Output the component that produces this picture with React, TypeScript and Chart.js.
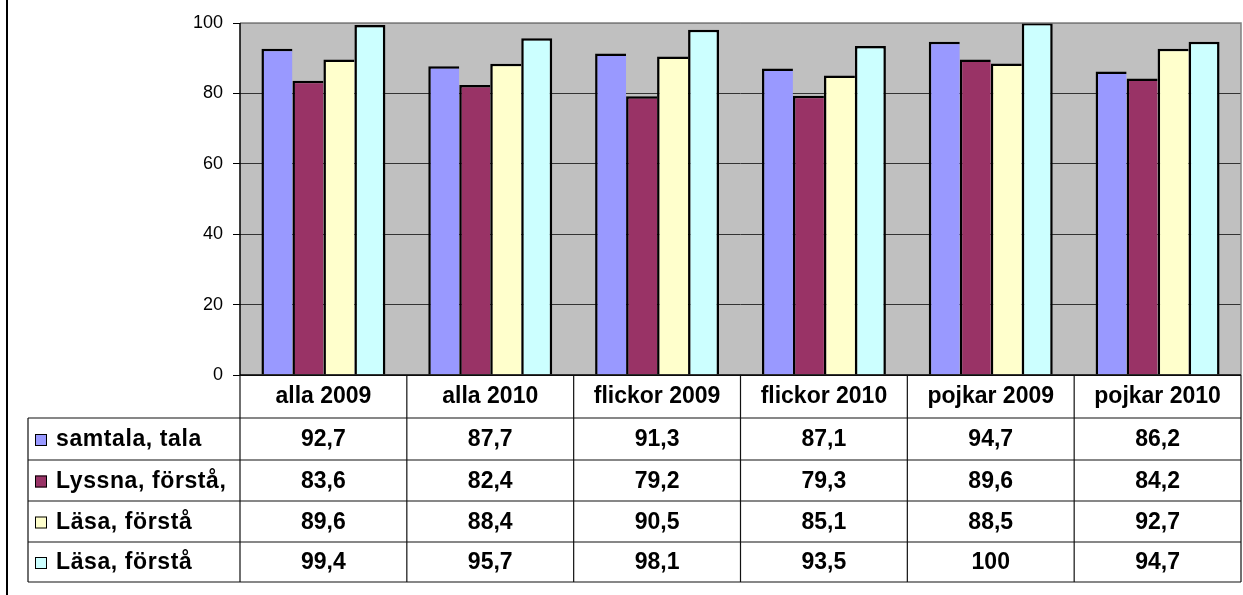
import React, { useEffect, useRef } from "react";
import { Chart, registerables } from "chart.js";

Chart.register(...registerables);

const categories = ["alla 2009", "alla 2010", "flickor 2009", "flickor 2010", "pojkar 2009", "pojkar 2010"];
const seriesLabels = ["samtala, tala", "Lyssna, förstå,", "Läsa, förstå", "Läsa, förstå"];
const samtalaTala = [92.7, 87.7, 91.3, 87.1, 94.7, 86.2];
const lyssnaForsta = [83.6, 82.4, 79.2, 79.3, 89.6, 84.2];
const lasaForsta1 = [89.6, 88.4, 90.5, 85.1, 88.5, 92.7];
const lasaForsta2 = [99.4, 95.7, 98.1, 93.5, 100, 94.7];
const seriesColors = ["#9999FF", "#993366", "#FFFFCC", "#CCFFFF"];
const yTicks = [0, 20, 40, 60, 80, 100];

const FONT = "'Liberation Sans', Arial, sans-serif";
const W = 1243;
const H = 595;
const HEADER_BOTTOM = 418;
const ROW_LINES = [418, 460, 501, 542, 582];
const TABLE_LEFT = 28;

const fmt = (v: number) => String(v).replace(".", ",");

const tablePlugin = {
  id: "tablePlugin",
  beforeDraw(chart: any) {
    const { ctx, chartArea } = chart;
    ctx.save();
    ctx.fillStyle = "#FFFFFF";
    ctx.fillRect(0, 0, W, H);
    ctx.fillStyle = "#C0C0C0";
    ctx.fillRect(chartArea.left, chartArea.top, chartArea.right - chartArea.left, chartArea.bottom - chartArea.top);
    ctx.restore();
  },
  afterDraw(chart: any) {
    const { ctx, chartArea } = chart;
    const xScale = chart.scales.x;
    const n = chart.data.labels.length;
    const left = chartArea.left;
    const right = chartArea.right;
    const colW = (right - left) / n;
    ctx.save();
    // plot border top/right gray
    ctx.strokeStyle = "#808080";
    ctx.lineWidth = 1.5;
    ctx.beginPath();
    ctx.moveTo(left, chartArea.top);
    ctx.lineTo(right, chartArea.top);
    ctx.lineTo(right, chartArea.bottom);
    ctx.stroke();
    // left/bottom axis lines
    ctx.strokeStyle = "#000";
    ctx.lineWidth = 1.5;
    ctx.beginPath();
    ctx.moveTo(left, chartArea.top);
    ctx.lineTo(left, chartArea.bottom);
    ctx.lineTo(right, chartArea.bottom);
    ctx.stroke();

    // table lines
    ctx.strokeStyle = "#111";
    ctx.lineWidth = 1.2;
    ctx.beginPath();
    for (let i = 0; i <= n; i++) {
      const x = left + colW * i;
      ctx.moveTo(x, chartArea.bottom);
      ctx.lineTo(x, ROW_LINES[ROW_LINES.length - 1]);
    }
    for (const y of ROW_LINES) {
      ctx.moveTo(TABLE_LEFT, y);
      ctx.lineTo(right, y);
    }
    ctx.moveTo(TABLE_LEFT, ROW_LINES[0]);
    ctx.lineTo(TABLE_LEFT, ROW_LINES[ROW_LINES.length - 1]);
    ctx.stroke();

    // rows
    ctx.textBaseline = "middle";
    chart.data.datasets.forEach((ds: any, r: number) => {
      const yc = (ROW_LINES[r] + ROW_LINES[r + 1]) / 2 + 1;
      // swatch
      ctx.fillStyle = ds.backgroundColor;
      ctx.fillRect(35, yc - 6, 12, 12);
      ctx.strokeStyle = "#000";
      ctx.lineWidth = 1;
      ctx.strokeRect(35.5, yc - 5.5, 11, 11);
      ctx.fillStyle = "#000";
      ctx.font = `bold 23px ${FONT}`;
      ctx.textAlign = "left";
      (ctx as any).letterSpacing = "0.6px";
      ctx.fillText(ds.label, 56, yc);
      (ctx as any).letterSpacing = "0px";
      ctx.textAlign = "center";
      ds.data.forEach((v: number, i: number) => {
        ctx.fillText(fmt(v), xScale.getPixelForValue(i), yc);
      });
    });

    // outer left border
    ctx.fillStyle = "#000";
    ctx.fillRect(6, 0, 2, H);
    ctx.restore();
  },
};

export default function App() {
  const ref = useRef<HTMLCanvasElement>(null);
  useEffect(() => {
    document.body.style.margin = "0";
    const seriesData = [samtalaTala, lyssnaForsta, lasaForsta1, lasaForsta2];
    const chart = new Chart(ref.current!, {
      type: "bar",
      data: {
        labels: categories,
        datasets: seriesData.map((d, i) => ({
          label: seriesLabels[i],
          data: d,
          backgroundColor: seriesColors[i],
          borderColor: "#000",
          borderWidth: i === seriesData.length - 1
            ? { top: 2.5, left: 2.5, right: 2.5, bottom: 0 }
            : { top: 2.5, left: 2.5, right: 0, bottom: 0 },
          categoryPercentage: 0.743,
          barPercentage: 1,
        })),
      },
      options: {
        animation: false,
        responsive: false,
        devicePixelRatio: 1,
        layout: { padding: { left: 0, right: 2, top: 23, bottom: H - HEADER_BOTTOM } },
        plugins: { legend: { display: false }, tooltip: { enabled: false } },
        scales: {
          x: {
            grid: { display: false, drawTicks: false },
            border: { display: false },
            ticks: {
              color: "#000",
              font: { family: FONT, size: 23, weight: "bold" },
              padding: 8,
              maxRotation: 0,
              autoSkip: false,
            },
            afterFit: (s: any) => { s.height = HEADER_BOTTOM - 375; },
          },
          y: {
            min: 0,
            max: 100,
            afterBuildTicks: (s: any) => { s.ticks = yTicks.map((v) => ({ value: v })); },
            grid: {
              color: (c: any) => (c.tick && c.tick.value === 100 ? "#808080" : "#333"),
              tickColor: "#000",
              tickLength: 7,
              lineWidth: 1,
            },
            border: { display: false },
            ticks: {
              color: "#000",
              font: { family: FONT, size: 18 },
              padding: 10,
            },
            afterFit: (s: any) => { s.width = 240; },
          },
        },
      },
      plugins: [tablePlugin],
    });
    return () => chart.destroy();
  }, []);
  return (
    <div style={{ position: "fixed", left: 0, top: 0, width: W, height: H, background: "#fff" }}>
      <canvas ref={ref} width={W} height={H} style={{ width: W, height: H, display: "block" }} />
    </div>
  );
}
